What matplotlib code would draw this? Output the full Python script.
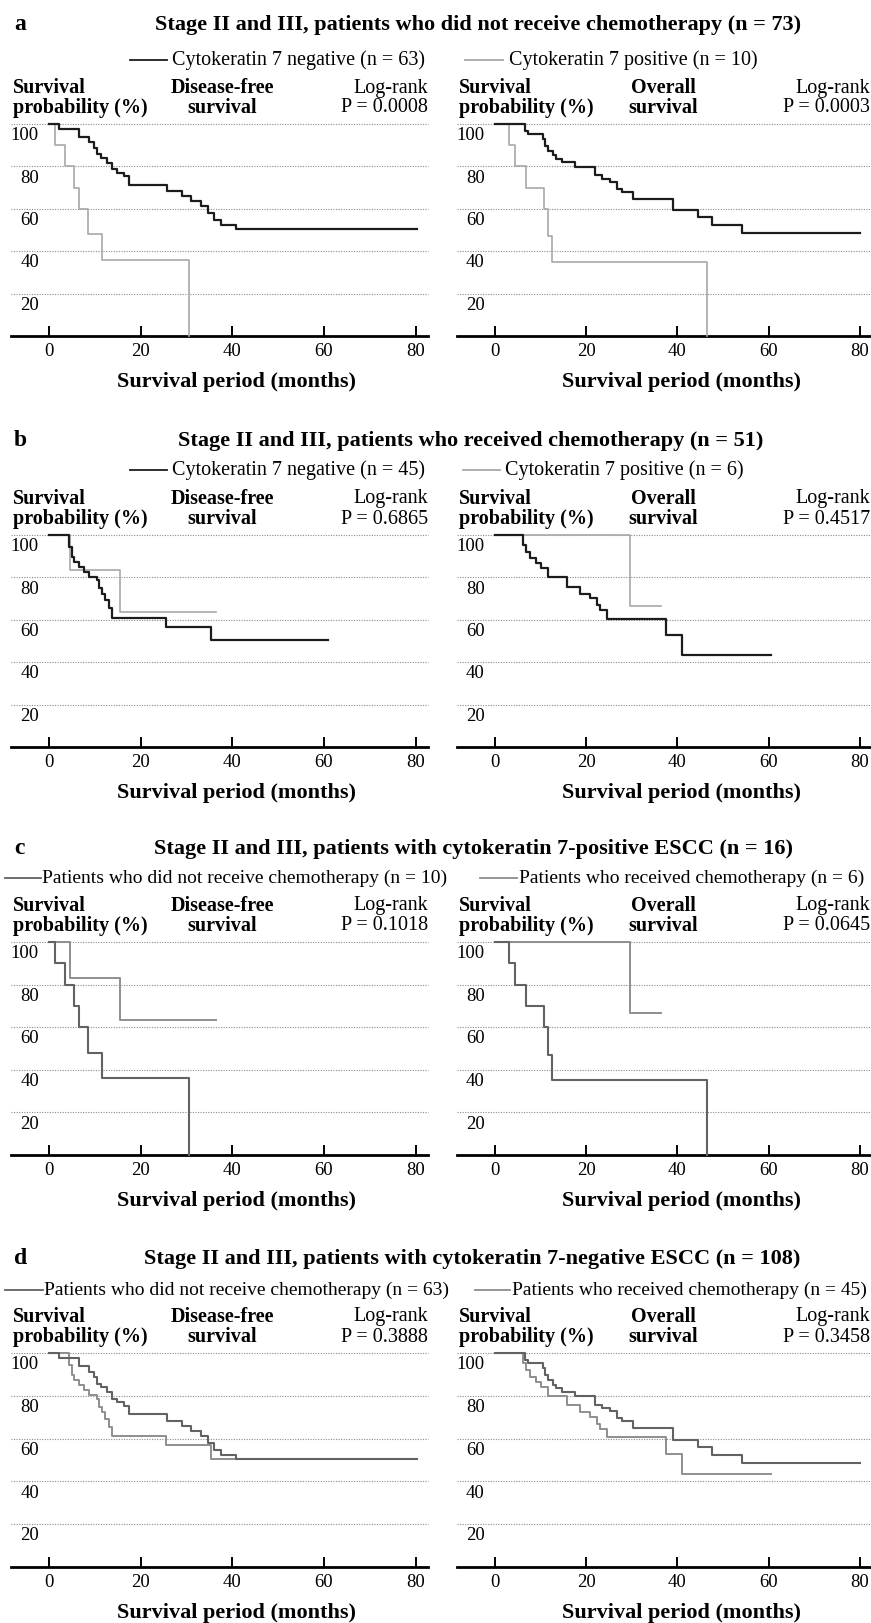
import matplotlib.pyplot as plt
from matplotlib.lines import Line2D

plt.rcParams['font.family'] = ['Liberation Serif', 'DejaVu Serif']

W, H = 871, 1623

# Kaplan-Meier step data: time (months), survival (%)
# CK7-negative, no chemotherapy (n = 63)
neg_nochemo_dfs_t = [0, 2.2, 6.5, 8.7, 9.8, 10.5, 11.3, 12.7, 13.8, 14.9, 16.4, 17.5,
                     25.8, 29.1, 30.9, 33.1, 34.6, 36.0, 37.5, 40.8, 80.4]
neg_nochemo_dfs_s = [100, 97.6, 93.7, 91.3, 88.9, 85.7, 84.1, 81.7, 78.6, 77.0, 75.4, 71.4,
                     68.3, 65.9, 63.5, 61.1, 57.9, 54.8, 52.5, 50.3, 50.3]
neg_nochemo_os_t = [0, 6.6, 7.3, 10.6, 11.0, 11.7, 12.8, 13.5, 14.6, 17.5, 21.9, 23.4,
                    25.2, 26.7, 27.8, 30.3, 39.1, 44.6, 47.5, 54.1, 80.0]
neg_nochemo_os_s = [100, 96.9, 95.3, 93.0, 89.8, 87.5, 85.2, 83.6, 82.0, 79.7, 75.8, 74.2,
                    72.7, 69.5, 68.0, 64.8, 59.4, 56.3, 52.3, 48.4, 48.4]
# CK7-positive, no chemotherapy (n = 10)
pos_nochemo_dfs_t = [0, 1.2, 3.4, 5.4, 6.5, 8.4, 11.6, 30.6]
pos_nochemo_dfs_s = [100, 90, 80, 70, 60, 48, 36, 0]
pos_nochemo_os_t = [0, 3.1, 4.5, 6.8, 10.7, 11.6, 12.6, 46.4]
pos_nochemo_os_s = [100, 90, 80, 70, 60, 47, 35, 0]
# CK7-negative, chemotherapy (n = 45)
neg_chemo_dfs_t = [0, 4.3, 5.1, 5.4, 6.5, 7.6, 8.7, 10.5, 10.9, 11.6, 12.3, 13.0, 13.7,
                   25.6, 35.4, 60.8]
neg_chemo_dfs_s = [100, 94.5, 89.8, 87.4, 85.0, 82.7, 80.3, 78.7, 74.8, 72.4, 69.3, 65.4,
                   61.0, 56.8, 50.4, 50.4]
neg_chemo_os_t = [0, 6.2, 6.9, 7.7, 9.1, 10.2, 11.7, 15.7, 18.6, 20.8, 22.3, 23.0, 24.5,
                  37.6, 40.9, 60.6]
neg_chemo_os_s = [100, 95.3, 92.1, 89.0, 86.6, 84.3, 80.0, 75.6, 72.4, 70.1, 66.9, 64.6,
                  60.6, 52.8, 43.3, 43.3]
# CK7-positive, chemotherapy (n = 6)
pos_chemo_dfs_t = [0, 4.5, 15.5, 36.5]
pos_chemo_dfs_s = [100, 83.3, 63.5, 63.5]
pos_chemo_os_t = [0, 29.5, 36.5]
pos_chemo_os_s = [100, 66.7, 66.7]

x_ticks = [0, 20, 40, 60, 80]
y_grid = [100, 80, 60, 40, 20]

titles = ['Stage II and III, patients who did not receive chemotherapy (n = 73)',
          'Stage II and III, patients who received chemotherapy (n = 51)',
          'Stage II and III, patients with cytokeratin 7-positive ESCC (n = 16)',
          'Stage II and III, patients with cytokeratin 7-negative ESCC (n = 108)']
legend_labels = [('Cytokeratin 7 negative (n = 63)', 'Cytokeratin 7 positive (n = 10)'),
                 ('Cytokeratin 7 negative (n = 45)', 'Cytokeratin 7 positive (n = 6)'),
                 ('Patients who did not receive chemotherapy (n = 10)',
                  'Patients who received chemotherapy (n = 6)'),
                 ('Patients who did not receive chemotherapy (n = 63)',
                  'Patients who received chemotherapy (n = 45)')]
pvals = [('0.0008', '0.0003'), ('0.6865', '0.4517'), ('0.1018', '0.0645'), ('0.3888', '0.3458')]

DARK = dict(color='#1c1c1c', lw=1.6)
LIGHT = dict(color='#a8a8a8', lw=1.2)
MID1 = dict(color='#626262', lw=1.5)
MID2 = dict(color='#8e8e8e', lw=1.4)

curves = [
    [((neg_nochemo_dfs_t, neg_nochemo_dfs_s), DARK), ((pos_nochemo_dfs_t, pos_nochemo_dfs_s), LIGHT)],
    [((neg_nochemo_os_t, neg_nochemo_os_s), DARK), ((pos_nochemo_os_t, pos_nochemo_os_s), LIGHT)],
    [((neg_chemo_dfs_t, neg_chemo_dfs_s), DARK), ((pos_chemo_dfs_t, pos_chemo_dfs_s), LIGHT)],
    [((neg_chemo_os_t, neg_chemo_os_s), DARK), ((pos_chemo_os_t, pos_chemo_os_s), LIGHT)],
    [((pos_nochemo_dfs_t, pos_nochemo_dfs_s), MID1), ((pos_chemo_dfs_t, pos_chemo_dfs_s), MID2)],
    [((pos_nochemo_os_t, pos_nochemo_os_s), MID1), ((pos_chemo_os_t, pos_chemo_os_s), MID2)],
    [((neg_nochemo_dfs_t, neg_nochemo_dfs_s), MID1), ((neg_chemo_dfs_t, neg_chemo_dfs_s), MID2)],
    [((neg_nochemo_os_t, neg_nochemo_os_s), MID1), ((neg_chemo_os_t, neg_chemo_os_s), MID2)],
]

# panel geometry in pixels: title y, legend y, axes top, axes bottom, title centre x
panels = [
    dict(letter='a', title_y=25, leg_y=60, top=124, bottom=336, tcx=478,
         leg=[(130, 167, 172), (465, 503, 509)], leg_style=(DARK, LIGHT)),
    dict(letter='b', title_y=441, leg_y=470, top=535, bottom=747, tcx=471,
         leg=[(130, 167, 172), (463, 500, 505)], leg_style=(DARK, LIGHT)),
    dict(letter='c', title_y=849, leg_y=878, top=942, bottom=1155, tcx=473,
         leg=[(5, 41, 42), (480, 517, 519)], leg_style=(MID1, MID2)),
    dict(letter='d', title_y=1259, leg_y=1290, top=1353, bottom=1567, tcx=472,
         leg=[(5, 43, 44), (475, 510, 512)], leg_style=(MID1, MID2)),
]
cols = [dict(left=11, right=428, xlim=(-8.3, 82.7), kind='Disease-free', kx=222),
        dict(left=457, right=870, xlim=(-8.3, 82.2), kind='Overall', kx=663)]

fig = plt.figure(figsize=(W / 100, H / 100), dpi=100)
fig.patch.set_facecolor('white')


def fx(x):
    return x / W


def fy(y):
    return 1 - y / H


for i, p in enumerate(panels):
    fig.text(fx(14), fy(p['title_y']), p['letter'], fontsize=17, fontweight='bold',
             ha='left', va='center')
    fig.text(fx(p['tcx']), fy(p['title_y']), titles[i], fontsize=16, fontweight='bold',
             ha='center', va='center')
    for (x0, x1, tx), lab, st in zip(p['leg'], legend_labels[i], p['leg_style']):
        fig.add_artist(Line2D([fx(x0), fx(x1)], [fy(p['leg_y']), fy(p['leg_y'])],
                              transform=fig.transFigure, color=st['color'], lw=1.3))
        fig.text(fx(tx), fy(p['leg_y']), lab, fontsize=14 if i >= 2 else 14.5,
                 ha='left', va='center')

    for j, c in enumerate(cols):
        ax = fig.add_axes([fx(c['left']), fy(p['bottom']),
                           (c['right'] - c['left']) / W, (p['bottom'] - p['top']) / H])
        ax.set_xlim(*c['xlim'])
        ax.set_ylim(0, 100)
        for s in ['top', 'left', 'right']:
            ax.spines[s].set_visible(False)
        ax.spines['bottom'].set_linewidth(2.0)
        ax.set_yticks([])
        ax.set_xticks(x_ticks)
        ax.tick_params(axis='x', direction='in', length=7, width=1.4, pad=5, labelsize=13.5)
        for v in y_grid:
            ax.axhline(v, color='#8a8a8a', lw=0.8, ls=(0, (1, 1.3)), clip_on=False, zorder=1)
            ax.text(-2.2, v - 5.5, str(v), fontsize=13.5, ha='right', va='center')
        for (t, s), st in curves[2 * i + j][::-1]:
            ax.step(t, s, where='post', clip_on=False, zorder=3, **st)

        left, right, top = c['left'], c['right'], p['top']
        fig.text(fx(left + 2), fy(top - 36), 'Survival', fontsize=14.5, fontweight='bold',
                 ha='left', va='center')
        fig.text(fx(left + 2), fy(top - 16), 'probability (%)', fontsize=14.5,
                 fontweight='bold', ha='left', va='center')
        fig.text(fx(c['kx']), fy(top - 36), c['kind'], fontsize=14.5, fontweight='bold',
                 ha='center', va='center')
        fig.text(fx(c['kx']), fy(top - 16), 'survival', fontsize=14.5, fontweight='bold',
                 ha='center', va='center')
        fig.text(fx(right), fy(top - 36), 'Log-rank', fontsize=14.5, ha='right', va='center')
        fig.text(fx(right), fy(top - 16), 'P = ' + pvals[i][j], fontsize=14.5,
                 ha='right', va='center')
        ax.annotate('Survival period (months)', xy=(41, 0), xycoords=('data', 'axes fraction'),
                    xytext=(0, -33), textcoords='offset points', ha='center', va='center',
                    fontsize=16, fontweight='bold', annotation_clip=False)

fig.savefig('out.png', dpi=100, facecolor='white')
